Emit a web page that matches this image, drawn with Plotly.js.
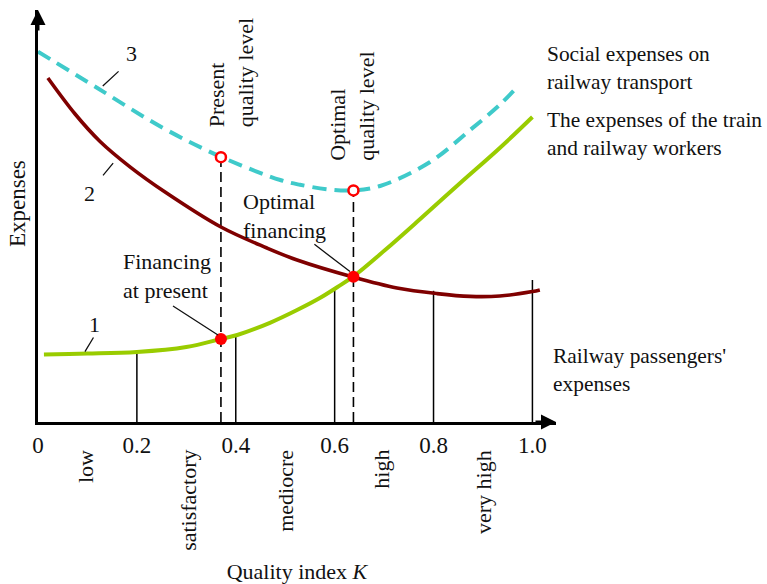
<!DOCTYPE html>
<html>
<head>
<meta charset="utf-8">
<script src="https://cdn.plot.ly/plotly-3.0.1.min.js"></script>
<style>html,body{margin:0;padding:0;background:#fff;}#chart{width:767px;height:584px;}</style>
</head>
<body>
<div id="chart"></div>
<script>
// ---- data (quality index K, expenses in arbitrary units) ----
const K_PASSENGERS = [0.012, 0.1, 0.2, 0.3, 0.37, 0.403, 0.469, 0.524, 0.57, 0.605, 0.638, 0.702, 0.773, 0.854, 0.934, 1.0];
const Y_PASSENGERS = [1.69, 1.71, 1.75, 1.875, 2.075, 2.175, 2.48, 2.80, 3.10, 3.37, 3.64, 4.30, 5.075, 5.975, 6.85, 7.625];

const K_WORKERS = [0.02, 0.075, 0.125, 0.186, 0.257, 0.37, 0.463, 0.524, 0.637, 0.726, 0.807, 0.874, 0.934, 1.0, 1.015];
const Y_WORKERS = [8.60, 7.70, 7.02, 6.38, 5.75, 4.875, 4.35, 4.05, 3.625, 3.35, 3.21, 3.14, 3.15, 3.26, 3.30];

const K_SOCIAL = [0.0, 0.12, 0.253, 0.37, 0.49, 0.53, 0.59, 0.637, 0.692, 0.793, 0.874, 0.934, 0.971];
const Y_SOCIAL = [9.26, 8.35, 7.35, 6.63, 6.05, 5.93, 5.81, 5.79, 5.90, 6.50, 7.30, 7.93, 8.40];

// present / optimal quality level
const LEVEL_K = [0.37, 0.638];
const LEVEL_SOCIAL = [6.62, 5.79];
const LEVEL_FINANCING = [2.075, 3.63];

// quality category boundaries and their heights
const BOUND_K = [0.2, 0.4, 0.6, 0.8, 1.0];
const BOUND_TOP = [1.75, 2.175, 3.3, 3.28, 3.55];

const TICK_VALS = [0, 0.2, 0.4, 0.6, 0.8, 1.0];
const TICK_TEXT = ['0', '0.2', '0.4', '0.6', '0.8', '1.0'];
const CATEGORY_NAMES = ['low', 'satisfactory', 'mediocre', 'high', 'very high'];
const CATEGORY_K = [0.095, 0.303, 0.5, 0.693, 0.901];

const SERIES_NAMES = ["Railway passengers'<br>expenses", 'The expenses of the train<br>and railway workers', 'Social expenses on<br>railway transport'];

// ---- styles ----
const FONT = '"Liberation Serif", "Times New Roman", Times, serif';
const FS = 22;
const GREEN = '#99cc00', DARKRED = '#7f0000', CYAN = '#3fcaca', RED = '#ff0000';
const XMAX = 1.0477, YMAX = 10.3;

const traces = [];
// dashed level lines
LEVEL_K.forEach((k, i) => traces.push({
  x: [k, k], y: [0, LEVEL_SOCIAL[i]], mode: 'lines', hoverinfo: 'skip',
  line: {color: '#000', width: 1.6, dash: '10px,5px'}
}));
// boundaries
BOUND_K.forEach((k, i) => traces.push({
  x: [k, k], y: [0, BOUND_TOP[i]], mode: 'lines', hoverinfo: 'skip',
  line: {color: '#000', width: 1.5}
}));
// curves
traces.push({x: K_SOCIAL, y: Y_SOCIAL, mode: 'lines', name: 'social',
  line: {color: CYAN, width: 4, dash: '14px,8px', shape: 'spline'}});
traces.push({x: K_WORKERS, y: Y_WORKERS, mode: 'lines', name: 'workers',
  line: {color: DARKRED, width: 3.6, shape: 'spline'}});
traces.push({x: K_PASSENGERS, y: Y_PASSENGERS, mode: 'lines', name: 'passengers',
  line: {color: GREEN, width: 4, shape: 'spline'}});
// markers
traces.push({x: LEVEL_K, y: LEVEL_SOCIAL, mode: 'markers', cliponaxis: false,
  marker: {symbol: 'circle', size: 10, color: '#fff', line: {color: RED, width: 2.5}}});
traces.push({x: LEVEL_K, y: LEVEL_FINANCING, mode: 'markers', cliponaxis: false,
  marker: {symbol: 'circle', size: 12, color: RED, line: {width: 0}}});

const txt = (o) => Object.assign({showarrow: false, xanchor: 'center', yanchor: 'middle',
  font: {family: FONT, size: FS, color: '#111'}}, o);
const side = (o) => txt(Object.assign({xref: 'paper', yref: 'paper', xanchor: 'left', align: 'left',
  font: {family: FONT, size: 21.4, color: '#111'}}, o));
const leader = (x, y, ax, ay) => ({x: x, y: y, ax: ax, ay: ay, xref: 'x', yref: 'y', axref: 'x', ayref: 'y',
  showarrow: true, arrowhead: 0, arrowwidth: 1.3, arrowcolor: '#111', text: '', standoff: 0});

const annotations = [
  // axis arrows
  {x: XMAX, y: 0, xref: 'x', yref: 'y', ax: -22, ay: 0, showarrow: true, arrowhead: 2, arrowsize: 1, arrowwidth: 3, arrowcolor: '#000', text: '', standoff: 0},
  {x: 0, y: YMAX, xref: 'x', yref: 'y', ax: 0, ay: 22, showarrow: true, arrowhead: 2, arrowsize: 1, arrowwidth: 3, arrowcolor: '#000', text: '', standoff: 0},
  // y title
  txt({text: 'Expenses', xref: 'paper', yref: 'paper', x: -0.0405, y: 0.529, textangle: -90, font: {family: FONT, size: 23, color: '#111'}}),
  // curve numbers
  txt({text: '1', x: 0.115, y: 2.43, xref: 'x', yref: 'y'}),
  txt({text: '2', x: 0.105, y: 5.72, xref: 'x', yref: 'y'}),
  txt({text: '3', x: 0.19, y: 9.22, xref: 'x', yref: 'y'}),
  leader(0.095, 1.76, 0.114, 2.15),
  leader(0.152, 6.47, 0.129, 6.13),
  leader(0.131, 8.4, 0.166, 8.8),
  // level labels
  txt({text: 'Present<br>quality level', x: 0.391, y: 8.725, xref: 'x', yref: 'y', textangle: -90, align: 'left'}),
  txt({text: 'Optimal<br>quality level', x: 0.636, y: 7.89, xref: 'x', yref: 'y', textangle: -90, align: 'left'}),
  txt({text: 'Financing<br>at present', x: 0.168, y: 3.65, xref: 'x', yref: 'y', xanchor: 'left', align: 'left'}),
  leader(0.364, 2.175, 0.270, 2.925),
  txt({text: 'Optimal<br>financing', x: 0.41, y: 5.14, xref: 'x', yref: 'y', xanchor: 'left', align: 'left'}),
  leader(0.631, 3.76, 0.556, 4.47),
  // series names on the right
  side({text: SERIES_NAMES[2], x: 0.979, y: 0.859}),
  side({text: SERIES_NAMES[1], x: 0.979, y: 0.699}),
  side({text: SERIES_NAMES[0], x: 0.991, y: 0.126})
];
CATEGORY_NAMES.forEach((c, i) => annotations.push(txt({
  text: c, x: CATEGORY_K[i], xref: 'x', yref: 'paper', y: -0.062, yanchor: 'top', textangle: -90
})));

const layout = {
  width: 767, height: 584,
  margin: {l: 38, r: 211, t: 10, b: 162, pad: 0},
  paper_bgcolor: '#fff', plot_bgcolor: '#fff',
  showlegend: false,
  font: {family: FONT, size: FS, color: '#111'},
  xaxis: {
    range: [0, XMAX], showline: true, linewidth: 3, linecolor: '#000',
    showgrid: false, zeroline: false, ticks: '',
    tickvals: TICK_VALS, ticktext: TICK_TEXT, tickfont: {family: FONT, size: 23, color: '#111'},
    title: {text: 'Quality index <i>K</i>', standoff: 108, font: {family: FONT, size: FS, color: '#111'}},
    automargin: false, fixedrange: true
  },
  yaxis: {
    range: [0, YMAX], showline: true, linewidth: 3, linecolor: '#000',
    showgrid: false, zeroline: false, ticks: '', showticklabels: false,
    automargin: false, fixedrange: true
  },
  annotations: annotations
};

Plotly.newPlot('chart', traces, layout, {displayModeBar: false, staticPlot: true});
</script>
</body>
</html>
